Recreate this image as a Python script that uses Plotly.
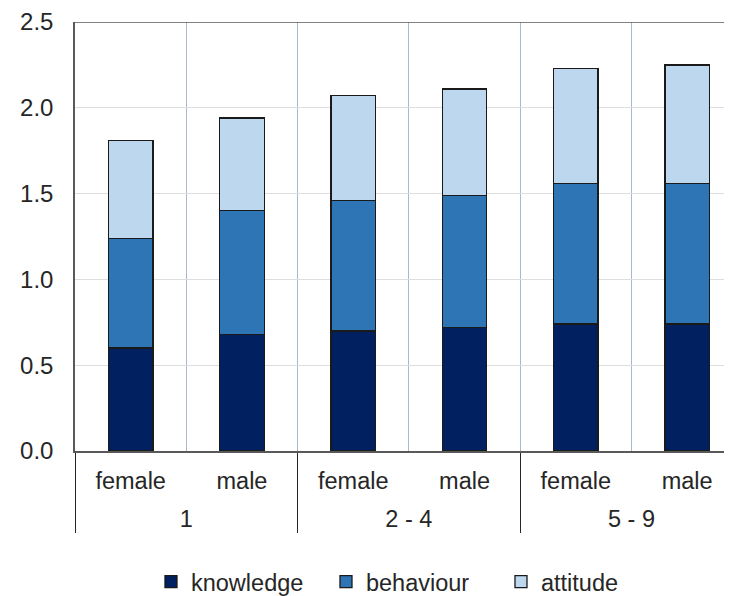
import plotly.graph_objects as go

groups = ["1", "1", "2 - 4", "2 - 4", "5 - 9", "5 - 9"]
genders = ["female", "male", "female", "male", "female", "male"]
knowledge = [0.60, 0.68, 0.70, 0.72, 0.74, 0.74]
behaviour = [0.64, 0.72, 0.76, 0.77, 0.82, 0.82]
attitude = [0.57, 0.54, 0.61, 0.62, 0.67, 0.69]
series_names = ["knowledge", "behaviour", "attitude"]
colors = ["#002060", "#2E75B6", "#BDD7EE"]

# tall blank spacers enlarge the first label row so the group row sits lower
PAD = "<span style='font-size:40px'>\u00a0</span>"
gender_labels = [PAD + g + PAD for g in genders]

fig = go.Figure()
for name, vals, col in zip(series_names, [knowledge, behaviour, attitude], colors):
    fig.add_trace(go.Bar(
        x=[groups, gender_labels], y=vals, name=name,
        marker=dict(color=col, line=dict(color="#1a1a1a", width=1.3)),
        width=0.4,
    ))

font = "Liberation Sans, Arial, sans-serif"
fs = 23.5
fig.update_layout(
    barmode="stack",
    width=732, height=596,
    margin=dict(l=67, r=0, t=14, b=153),
    paper_bgcolor="white", plot_bgcolor="white",
    font=dict(family=font, size=fs, color="#262626"),
    showlegend=True,
    legend=dict(orientation="h", x=0.509, xanchor="center", yref="container",
                y=0.037, yanchor="middle",
                entrywidth=130, itemwidth=30, font=dict(size=fs, color="#262626"),
                traceorder="normal"),
    xaxis=dict(type="multicategory", range=[-0.5, 5.475], tickson="boundaries",
               automargin=False,
               showgrid=True, gridcolor="#a9b8cf", gridwidth=1.3,
               showline=True, linecolor="#595959", linewidth=1.5,
               showdividers=True, dividercolor="#262626", dividerwidth=1.3,
               ticks="", ticklabelstandoff=8, tickfont=dict(size=fs, color="#262626")),
    yaxis=dict(range=[0, 2.5], dtick=0.5, tickformat=".1f", automargin=False,
               showgrid=True, gridcolor="#dedede", gridwidth=1.3,
               showline=True, linecolor="#595959", linewidth=1.5,
               zeroline=False, ticks="", ticklabelstandoff=15,
               tickfont=dict(size=24, color="#262626")),
    shapes=[dict(type="line", xref="paper", yref="y", x0=0, x1=1, y0=2.5, y1=2.5,
                 line=dict(color="#595959", width=1.5))],
)
fig.write_html("out.html")
